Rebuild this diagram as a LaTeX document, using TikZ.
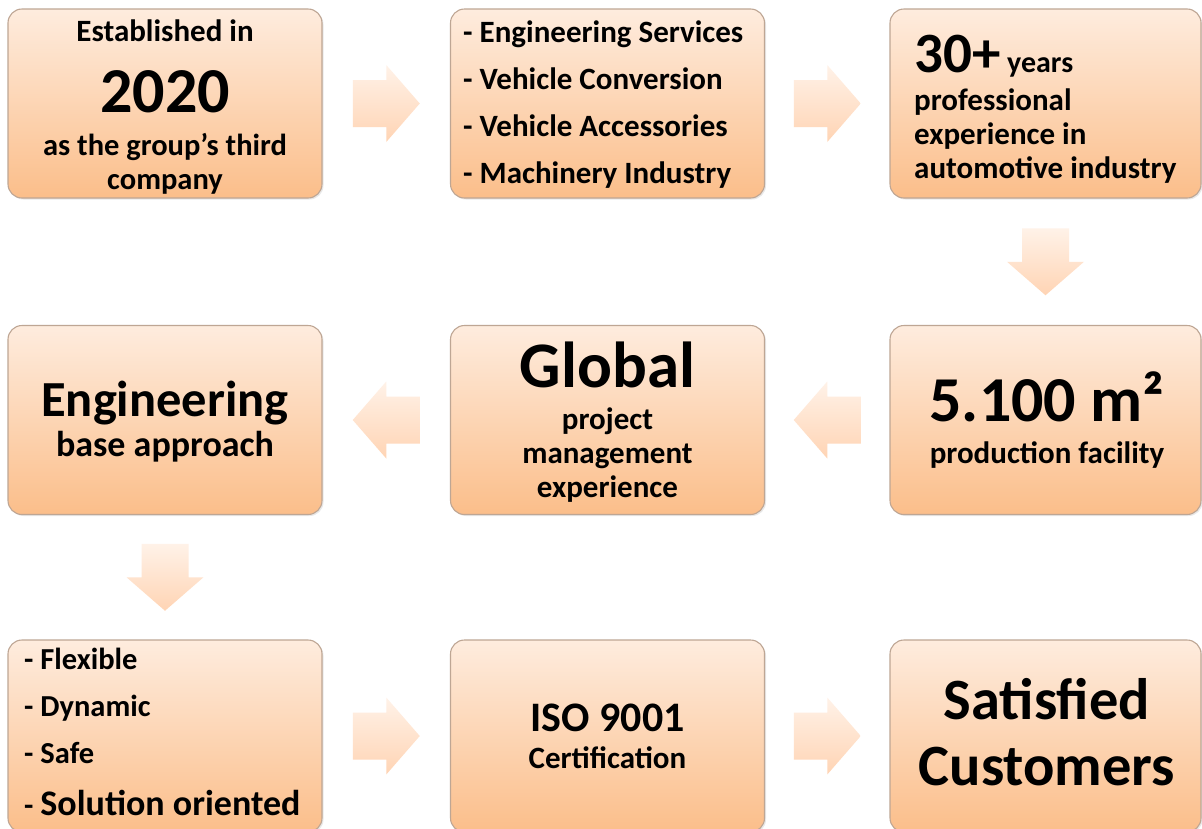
\documentclass[tikz,border=0pt]{standalone}
\usepackage{fontspec}
\setmainfont{Carlito}
\usetikzlibrary{shadows,calc}
\definecolor{boxtop}{RGB}{254,236,222}
\definecolor{boxbot}{RGB}{251,190,138}
\definecolor{boxline}{RGB}{190,166,148}
\definecolor{arrtop}{RGB}{255,242,232}
\definecolor{arrbot}{RGB}{255,212,180}
\newcommand\fsz[1]{\fontsize{#1}{#1}\selectfont\bfseries}
\tikzset{
  box/.style={rectangle, rounded corners=14pt, draw=boxline, line width=1.1pt,
    top color=boxtop, bottom color=boxbot, minimum width=314pt, minimum height=189pt,
    inner sep=0pt, drop shadow={opacity=0.18, shadow xshift=1.5pt, shadow yshift=-1.5pt}},
  arr/.style={top color=arrtop, bottom color=arrbot, draw=none},
  lbl/.style={anchor=base, inner sep=0pt, text=black},
  lbll/.style={anchor=base west, inner sep=0pt, text=black}
}
\newcommand\arrright[1]{\begin{scope}[shift={(#1)}]\shade[arr] (-33.5,-23.5) -- (0,-23.5) -- (0,-38.5) -- (33.5,0) -- (0,38.5) -- (0,23.5) -- (-33.5,23.5) -- cycle;\end{scope}}
\newcommand\arrleft[1]{\begin{scope}[shift={(#1)}]\shade[arr] (33.5,-23.5) -- (0,-23.5) -- (0,-38.5) -- (-33.5,0) -- (0,38.5) -- (0,23.5) -- (33.5,23.5) -- cycle;\end{scope}}
\newcommand\arrdown[1]{\begin{scope}[shift={(#1)}]\shade[arr] (-23.5,-33.5) -- (-23.5,0) -- (-38.5,0) -- (0,33.5) -- (38.5,0) -- (23.5,0) -- (23.5,-33.5) -- cycle;\end{scope}}
\begin{document}
\begin{tikzpicture}[x=1pt,y=-1pt]
\useasboundingbox (0,0) rectangle (1202,828);
\fill[white] (0,0) rectangle (1202,828);
% boxes
\node[box] (b1) at (165,103.5) {};
\node[box] (b2) at (607.5,103.5) {};
\node[box, minimum width=311pt] (b3) at (1045.5,103.5) {};
\node[box] (b4) at (165,420) {};
\node[box] (b5) at (607.5,420) {};
\node[box, minimum width=311pt] (b6) at (1045.5,420) {};
\node[box, minimum height=192pt] (b7) at (165,736) {};
\node[box, minimum height=192pt] (b8) at (607.5,736) {};
\node[box, minimum width=311pt, minimum height=192pt] (b9) at (1045.5,736) {};
% arrows
\coordinate (a12) at ($(b1.east)!0.5!(b2.west)$);
\coordinate (a23) at ($(b2.east)!0.5!(b3.west)$);
\coordinate (a36) at ($(b3.south)!0.5!(b6.north)$);
\coordinate (a65) at ($(b6.west)!0.5!(b5.east)$);
\coordinate (a54) at ($(b5.west)!0.5!(b4.east)$);
\coordinate (a47) at ($(b4.south)!0.5!(b7.north)$);
\coordinate (a78) at ($(b7.east)!0.5!(b8.west)$);
\coordinate (a89) at ($(b8.east)!0.5!(b9.west)$);
\arrright{a12}
\arrright{a23}
\arrdown{a36}
\arrleft{a65}
\arrleft{a54}
\arrdown{a47}
\arrright{a78}
\arrright{a89}
% box 1
\node[lbl, font=\fsz{31}] (t1a) at (165,41) {Established in};
\node[lbl, font=\fsz{64}] (t1b) at (165,112) {2020};
\node[lbl, font=\fsz{30.5}] (t1c) at (165,155) {as the group’s third};
\node[lbl, font=\fsz{30.5}] (t1d) at (165,189) {company};
% box 2
\node[lbll, font=\fsz{31}] (t2a) at (463,42) {- Engineering Services};
\node[lbll, font=\fsz{31}] (t2b) at (463,89) {- Vehicle Conversion};
\node[lbll, font=\fsz{31}] (t2c) at (463,136) {- Vehicle Accessories};
\node[lbll, font=\fsz{31}] (t2d) at (463,183) {- Machinery Industry};
% box 3
\node[lbll, font=\fsz{30}] (t3a) at (914,72) {{\fsz{57}30+} years};
\node[lbll, font=\fsz{31}] (t3b) at (914,110) {professional};
\node[lbll, font=\fsz{31}] (t3c) at (914,144) {experience in};
\node[lbll, font=\fsz{31}] (t3d) at (914,178) {automotive industry};
% box 4
\node[lbl, font=\fsz{50.5}] (t4a) at (165,416) {Engineering};
\node[lbl, font=\fsz{36}] (t4b) at (165,456) {base approach};
% box 5
\node[lbl, font=\fsz{65}] (t5a) at (607.5,387) {Global};
\node[lbl, font=\fsz{31}] (t5b) at (607.5,429) {project};
\node[lbl, font=\fsz{31}] (t5c) at (607.5,463) {management};
\node[lbl, font=\fsz{31}] (t5d) at (607.5,497) {experience};
% box 6
\node[lbl, font=\fsz{64}] (t6a) at (1047,421) {5.100 m²};
\node[lbl, font=\fsz{31}] (t6b) at (1047,463) {production facility};
% box 7
\node[lbll, font=\fsz{30.5}] (t7a) at (24,669) {- Flexible};
\node[lbll, font=\fsz{30.5}] (t7b) at (24,716) {- Dynamic};
\node[lbll, font=\fsz{30.5}] (t7c) at (24,763) {- Safe};
\node[lbll, font=\fsz{30.5}] (t7d) at (24,815) {- {\fsz{36}Solution oriented}};
% box 8
\node[lbl, font=\fsz{42}] (t8a) at (607.5,731) {ISO 9001};
\node[lbl, font=\fsz{31}] (t8b) at (607.5,768) {Certification};
% box 9
\node[lbl, font=\fsz{58.5}] (t9a) at (1047,719) {Satisfied};
\node[lbl, font=\fsz{58.5}] (t9b) at (1047,785) {Customers};
\end{tikzpicture}
\end{document}
